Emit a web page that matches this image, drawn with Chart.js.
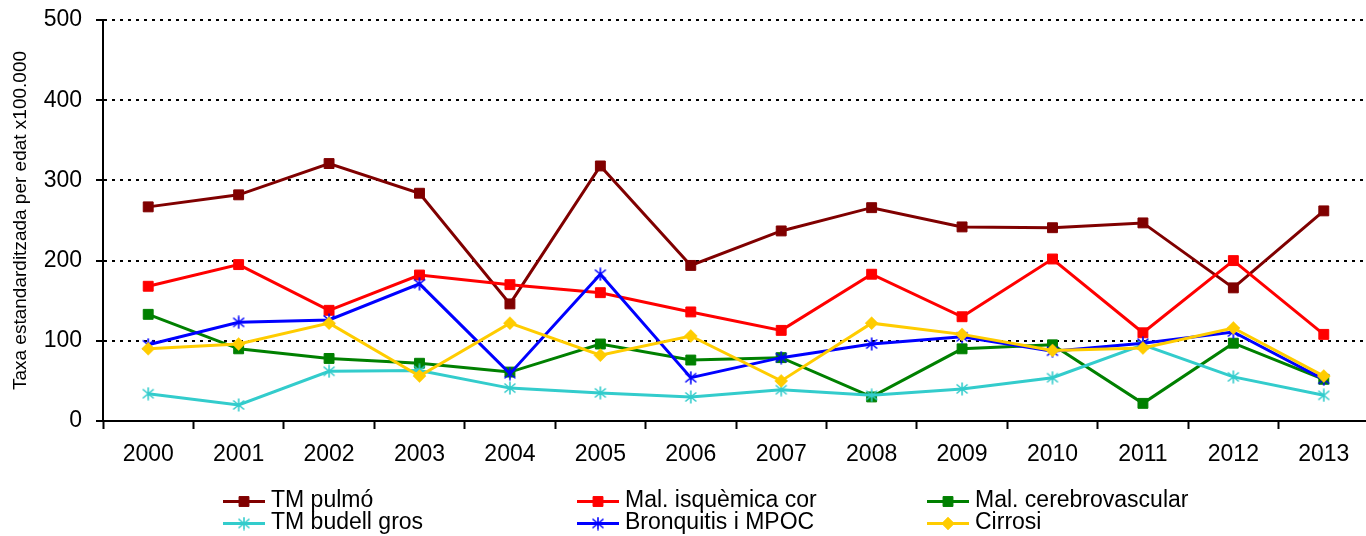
<!DOCTYPE html>
<html>
<head>
<meta charset="utf-8">
<script src="https://cdn.jsdelivr.net/npm/chart.js@4/dist/chart.umd.min.js"></script>
<style>
  html, body { margin: 0; padding: 0; background: #fff; overflow: hidden; }
  #chart { display: block; }
</style>
</head>
<body>
<canvas id="chart" width="1377" height="536"></canvas>
<script>
// Years on the horizontal axis
const years = ['2000', '2001', '2002', '2003', '2004', '2005', '2006',
               '2007', '2008', '2009', '2010', '2011', '2012', '2013'];

// Age-standardised rates per 100,000, one array per cause of death
const tmPulmo          = [267, 282, 321, 284, 146, 318, 194, 237, 266, 242, 241, 247, 166, 262];
const malIsquemicaCor  = [168, 195, 138, 182, 170, 160, 136, 113, 183, 130, 202, 110, 200, 108];
const malCerebrovasc   = [133,  90,  78,  72,  61,  96,  76,  79,  30,  90,  95,  22,  97,  52];
const tmBudellGros     = [ 34,  20,  62,  63,  41,  35,  30,  39,  32,  40,  54,  95,  55,  32];
const bronquitisMpoc   = [ 95, 123, 126, 171,  59, 183,  54,  79,  96, 105,  87,  97, 111,  52];
const cirrosi          = [ 90,  96, 122,  56, 122,  82, 106,  50, 122, 108,  88,  91, 116,  56];

// Value axis ticks
const yTicks = [0, 100, 200, 300, 400, 500];

const FONT = "'Liberation Sans', Arial, sans-serif";

// Six-armed asterisk marker (vertical stroke plus an X)
function asterisk(color) {
  const c = document.createElement('canvas');
  c.width = 14; c.height = 14;
  const g = c.getContext('2d');
  g.strokeStyle = color;
  g.lineWidth = 1.6;
  g.beginPath();
  g.moveTo(7, 0.5);  g.lineTo(7, 13.5);
  g.moveTo(1.5, 2.5); g.lineTo(12.5, 11.5);
  g.moveTo(12.5, 2.5); g.lineTo(1.5, 11.5);
  g.stroke();
  return c;
}

function series(label, data, color, style, order) {
  const isImg = style === 'asterisk';
  return {
    label, data,
    borderColor: color,
    backgroundColor: color,
    borderWidth: 3,
    tension: 0,
    pointStyle: isImg ? asterisk(color) : style,
    pointRadius: style === 'rect' ? 7 : 6.5,
    pointBorderWidth: style === 'rect' ? 1 : 0.5,
    pointBackgroundColor: color,
    pointBorderColor: color,
    order
  };
}

const datasets = [
  series('TM pulmó',             tmPulmo,         '#800000', 'rect',     5),
  series('Mal. isquèmica cor',   malIsquemicaCor, '#FF0000', 'rect',     4),
  series('Mal. cerebrovascular', malCerebrovasc,  '#008000', 'rect',     3),
  series('TM budell gros',       tmBudellGros,    '#33CCCC', 'asterisk', 2),
  series('Bronquitis i MPOC',    bronquitisMpoc,  '#0000FF', 'asterisk', 1),
  series('Cirrosi',              cirrosi,         '#FFCC00', 'rectRot',  0)
];

// Three-column legend under the axis: line sample with its marker, then the label
const gridLegend = {
  id: 'gridLegend',
  afterDraw(chart) {
    const ctx = chart.ctx;
    const colX = [223, 577, 927];
    const rowY = [501.5, 523.5];
    const sampleLen = 42;
    ctx.save();
    chart.data.datasets.forEach((ds, i) => {
      const x = colX[i % 3];
      const y = rowY[Math.floor(i / 3)];
      ctx.strokeStyle = ds.borderColor;
      ctx.lineWidth = 3;
      ctx.beginPath();
      ctx.moveTo(x, y);
      ctx.lineTo(x + sampleLen, y);
      ctx.stroke();
      ctx.fillStyle = ds.pointBackgroundColor;
      ctx.strokeStyle = ds.pointBorderColor;
      ctx.lineWidth = ds.pointBorderWidth;
      Chart.helpers.drawPoint(ctx, {
        pointStyle: ds.pointStyle,
        radius: ds.pointRadius,
        borderWidth: ds.pointBorderWidth,
        rotation: 0
      }, x + sampleLen / 2, y);
      ctx.fillStyle = '#000';
      ctx.font = '23px ' + FONT;
      ctx.textBaseline = 'alphabetic';
      ctx.textAlign = 'left';
      ctx.fillText(ds.label, x + sampleLen + 6, y + 5.5);
    });
    ctx.restore();
  }
};

new Chart(document.getElementById('chart'), {
  type: 'line',
  data: { labels: years, datasets },
  options: {
    responsive: false,
    animation: false,
    devicePixelRatio: 1,
    layout: { padding: { top: 20, right: 0, bottom: 0, left: 0 } },
    plugins: {
      legend: { display: false },
      tooltip: { enabled: false }
    },
    scales: {
      x: {
        type: 'category',
        offset: true,
        grid: {
          offset: true,
          drawOnChartArea: false,
          drawTicks: true,
          tickLength: 8,
          tickWidth: 2,
          tickColor: '#000'
        },
        border: { display: true, color: '#000', width: 2 },
        ticks: {
          color: '#000',
          font: { family: FONT, size: 23 },
          padding: 12,
          maxRotation: 0,
          autoSkip: false
        },
        afterFit(scale) {
          scale.height = 115;
          scale.paddingLeft = 0;
          scale.paddingRight = 0;
        }
      },
      y: {
        min: 0,
        max: 500,
        afterBuildTicks(scale) { scale.ticks = yTicks.map(v => ({ value: v })); },
        grid: {
          color: '#000',
          lineWidth: 2,
          drawTicks: true,
          tickLength: 7,
          tickWidth: 2,
          tickColor: '#000'
        },
        border: { display: true, color: '#000', width: 2, dash: [3, 5] },
        ticks: {
          color: '#000',
          font: { family: FONT, size: 23 },
          padding: 14
        },
        title: {
          display: true,
          text: 'Taxa estandarditzada per edat x100.000',
          color: '#000',
          font: { family: FONT, size: 19 },
          padding: { top: 9, bottom: 0 }
        },
        afterFit(scale) {
          scale.width = 103;
          scale.paddingTop = 0;
          scale.paddingBottom = 0;
        }
      }
    }
  },
  plugins: [gridLegend]
});
</script>
</body>
</html>
